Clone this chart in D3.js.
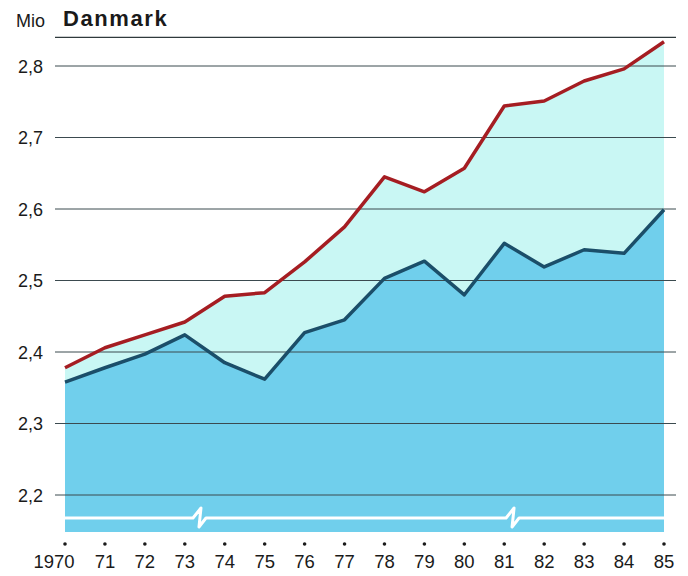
<!DOCTYPE html>
<html>
<head>
<meta charset="utf-8">
<script src="https://cdn.jsdelivr.net/npm/d3@7"></script>
<style>
  body { margin: 0; background: #fff; }
  svg text { font-family: "Liberation Sans", Arial, sans-serif; fill: #1a1a1a; }
</style>
</head>
<body>
<div id="chart"></div>
<script>
var years = [1970, 1971, 1972, 1973, 1974, 1975, 1976, 1977, 1978, 1979, 1980, 1981, 1982, 1983, 1984, 1985];
var yearLabels = ["1970", "71", "72", "73", "74", "75", "76", "77", "78", "79", "80", "81", "82", "83", "84", "85"];
var lower = [2.358, 2.378, 2.397, 2.424, 2.385, 2.362, 2.427, 2.445, 2.503, 2.527, 2.480, 2.552, 2.519, 2.543, 2.538, 2.599];
var upper = [2.378, 2.406, 2.424, 2.442, 2.478, 2.483, 2.526, 2.575, 2.645, 2.624, 2.657, 2.744, 2.751, 2.779, 2.796, 2.834];
var yTicks = [2.2, 2.3, 2.4, 2.5, 2.6, 2.7, 2.8];
var axisBreaks = [1973.38, 1981.22];

var width = 688, height = 576;

var svg = d3.select("#chart").append("svg")
    .attr("width", width)
    .attr("height", height);

var x = d3.scaleLinear().domain([1970, 1985]).range([65, 664]);
var y = d3.scaleLinear().domain([2.2, 2.8]).range([495, 66]);
var bottom = 532;
var fmt = function(d) { return d3.format(".1f")(d).replace(".", ","); };

var data = years.map(function(yr, i) { return {year: yr, lo: lower[i], hi: upper[i]}; });

// light band between the two series
svg.append("path")
    .datum(data)
    .attr("fill", "#c9f7f4")
    .attr("d", d3.area()
      .x(function(d) { return x(d.year); })
      .y0(function(d) { return y(d.lo); })
      .y1(function(d) { return y(d.hi); }));

// blue area under lower series
svg.append("path")
    .datum(data)
    .attr("fill", "#70cfec")
    .attr("d", d3.area()
      .x(function(d) { return x(d.year); })
      .y0(bottom)
      .y1(function(d) { return y(d.lo); }));

// gridlines
svg.append("g").selectAll("line")
    .data(yTicks)
    .enter().append("line")
      .attr("x1", 55).attr("x2", 676)
      .attr("y1", function(d) { return y(d); })
      .attr("y2", function(d) { return y(d); })
      .attr("stroke", "#3b4a4f")
      .attr("stroke-width", 1);

// top rule
svg.append("line")
    .attr("x1", 55).attr("x2", 676)
    .attr("y1", y(2.84)).attr("y2", y(2.84))
    .attr("stroke", "#2f3a3c")
    .attr("stroke-width", 1.3);

// y labels
svg.append("g").selectAll("text")
    .data(yTicks)
    .enter().append("text")
      .attr("x", 43)
      .attr("y", function(d) { return y(d) + 6.5; })
      .attr("text-anchor", "end")
      .attr("font-size", 18)
      .text(fmt);

// lines
svg.append("path")
    .datum(data)
    .attr("fill", "none")
    .attr("stroke", "#1b4e69")
    .attr("stroke-width", 3.5)
    .attr("stroke-linejoin", "round")
    .attr("d", d3.line()
      .x(function(d) { return x(d.year); })
      .y(function(d) { return y(d.lo); }));

svg.append("path")
    .datum(data)
    .attr("fill", "none")
    .attr("stroke", "#a51d22")
    .attr("stroke-width", 3.5)
    .attr("stroke-linejoin", "round")
    .attr("d", d3.line()
      .x(function(d) { return x(d.year); })
      .y(function(d) { return y(d.hi); }));

// axis break line (white, with zigzags)
var by = 518;
var bp = d3.path();
bp.moveTo(x(1970), by);
axisBreaks.forEach(function(b) {
  var bx = x(b);
  bp.lineTo(bx - 7, by);
  bp.lineTo(bx + 1, by - 10);
  bp.lineTo(bx - 1, by + 9);
  bp.lineTo(bx + 6, by);
});
bp.lineTo(x(1985), by);
svg.append("path")
    .attr("d", bp.toString())
    .attr("fill", "none")
    .attr("stroke", "#fff")
    .attr("stroke-width", 3)
    .attr("stroke-linejoin", "round");

// x ticks: dots and labels
var xg = svg.append("g");
xg.selectAll("circle")
    .data(years)
    .enter().append("circle")
      .attr("cx", function(d) { return x(d); })
      .attr("cy", 544)
      .attr("r", 1.8)
      .attr("fill", "#1a1a1a");
xg.selectAll("text")
    .data(years)
    .enter().append("text")
      .attr("x", function(d, i) { return i === 0 ? x(d) - 11 : x(d); })
      .attr("y", 568)
      .attr("text-anchor", "middle")
      .attr("font-size", 18.5)
      .text(function(d, i) { return yearLabels[i]; });

// titles
svg.append("text")
    .attr("x", 16).attr("y", 27)
    .attr("font-size", 18)
    .text("Mio");
svg.append("text")
    .attr("x", 63).attr("y", 26)
    .attr("font-size", 22)
    .attr("font-weight", "bold")
    .attr("letter-spacing", 1.6)
    .text("Danmark");
</script>
</body>
</html>
